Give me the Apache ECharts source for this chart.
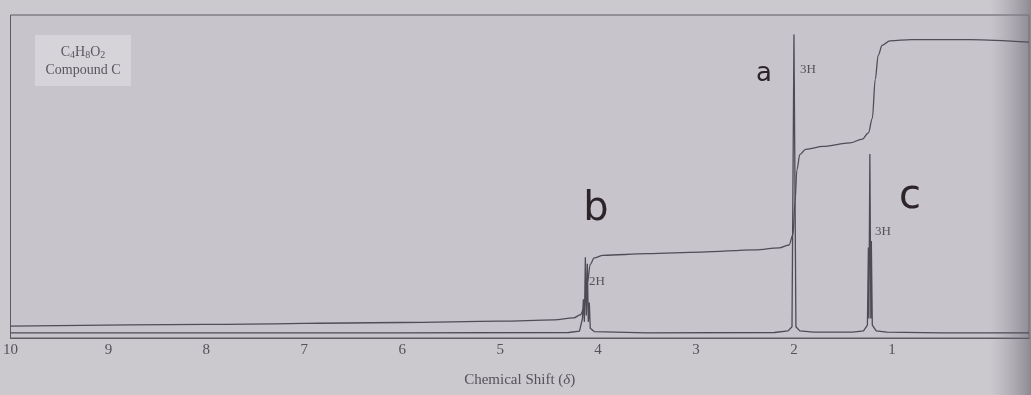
<!DOCTYPE html>
<html>
<head>
<meta charset="utf-8">
<script src="https://cdn.jsdelivr.net/npm/echarts@6/dist/echarts.min.js"></script>
<style>
  html, body { margin: 0; padding: 0; background: #cbc8ce; }
  #chart { width: 1031px; height: 395px; }
</style>
</head>
<body>
<div id="chart"></div>
<script>
// chemical shift ticks shown on the axis
const tickLabels = [10, 9, 8, 7, 6, 5, 4, 3, 2, 1];

// spectrum trace [shift, intensity]
const spectrum = [
  [10, 1.6], [6, 1.6], [4.3, 1.7], [4.19, 2.1],
  [4.16, 6], [4.15, 12], [4.14, 5], [4.13, 25], [4.12, 7], [4.11, 23], [4.10, 5], [4.09, 11], [4.08, 3],
  [4.04, 2.0], [3.5, 1.6], [2.2, 1.7], [2.06, 2.2], [2.02, 3.5],
  [2.0, 94], [1.98, 3.5], [1.94, 2.2], [1.8, 1.8], [1.4, 1.8], [1.29, 2.2], [1.25, 4],
  [1.24, 28], [1.235, 6], [1.225, 57], [1.215, 6], [1.21, 30], [1.2, 4],
  [1.16, 2.2], [1.05, 1.8], [0.5, 1.6], [-0.4, 1.6]
];

// integral curve [shift, height]
const integral = [
  [10, 3.7], [8, 4.2], [6, 4.8], [5, 5.2], [4.45, 5.6], [4.25, 6.2], [4.18, 7.2],
  [4.14, 9.5], [4.11, 17], [4.08, 22.8], [4.04, 24.8], [3.95, 25.6], [3.5, 26.1],
  [2.95, 26.6], [2.4, 27.3], [2.15, 27.9], [2.05, 28.8], [2.01, 32], [1.99, 42],
  [1.97, 52], [1.94, 56.8], [1.88, 58.4], [1.7, 59.3], [1.43, 60.4], [1.3, 61.6],
  [1.24, 63.5], [1.2, 68], [1.17, 80], [1.14, 87.5], [1.1, 90.6], [1.02, 92],
  [0.8, 92.4], [0.2, 92.4], [-0.4, 91.6]
];

// integration labels
const peakLabels = ['3H', '2H', '3H'];

const chart = echarts.init(document.getElementById('chart'));
const serif = '"Liberation Serif", "DejaVu Serif", serif';
const ink = '#55525a';

const option = {
  backgroundColor: '#cbc8ce',
  animation: false,
  grid: {
    left: 7, right: 2, top: 15, bottom: 57,
    show: true, borderColor: '#5d5a62', borderWidth: 1, backgroundColor: '#c7c4cb'
  },
  xAxis: {
    type: 'value',
    inverse: true,
    min: -0.4,
    max: 10,
    interval: 0.2,
    axisLine: { lineStyle: { color: '#5d5a62', width: 1.2 } },
    axisTick: { show: false },
    splitLine: { show: false },
    axisLabel: {
      margin: 5,
      fontFamily: serif,
      fontSize: 15,
      color: ink,
      showMinLabel: false,
      formatter: function (v) {
        const r = Math.round(v);
        if (Math.abs(v - r) < 1e-6 && tickLabels.indexOf(r) >= 0) return String(r);
        return '';
      }
    },
    name: '{n|Chemical Shift (}{i|δ}{n|)}',
    nameLocation: 'middle',
    nameGap: 35,
    nameTextStyle: {
      rich: {
        n: { fontFamily: serif, fontSize: 15, color: ink },
        i: { fontFamily: serif, fontSize: 15, color: ink, fontStyle: 'italic' }
      }
    }
  },
  yAxis: {
    type: 'value',
    min: 0,
    max: 100,
    show: false
  },
  series: [
    {
      name: 'spectrum',
      type: 'line',
      data: spectrum,
      showSymbol: false,
      lineStyle: { color: '#4e4b55', width: 1.3 }
    },
    {
      name: 'integral',
      type: 'line',
      data: integral,
      showSymbol: false,
      smooth: 0.35,
      smoothMonotone: 'x',
      lineStyle: { color: '#504d57', width: 1.3 }
    }
  ],
  graphic: [
    {
      type: 'rect',
      shape: { x: 35, y: 35, width: 96, height: 51 },
      style: { fill: '#d6d3d9' }
    },
    {
      type: 'text',
      x: 83, y: 52,
      style: {
        text: 'C{s|4}H{s|8}O{s|2}',
        align: 'center', verticalAlign: 'middle',
        fontFamily: serif, fontSize: 14, fill: '#5a5760',
        rich: { s: { fontFamily: serif, fontSize: 10, fill: '#5a5760', padding: [6, 0, 0, 0] } }
      }
    },
    {
      type: 'text',
      x: 83, y: 70,
      style: {
        text: 'Compound C', align: 'center', verticalAlign: 'middle',
        fontFamily: serif, fontSize: 14, fill: '#5a5760'
      }
    },
    {
      type: 'text', x: 800, y: 70,
      style: { text: peakLabels[0], verticalAlign: 'middle', fontFamily: serif, fontSize: 13, fill: ink }
    },
    {
      type: 'text', x: 589, y: 282,
      style: { text: peakLabels[1], verticalAlign: 'middle', fontFamily: serif, fontSize: 13, fill: ink }
    },
    {
      type: 'text', x: 875, y: 232,
      style: { text: peakLabels[2], verticalAlign: 'middle', fontFamily: serif, fontSize: 13, fill: ink }
    },
    // handwritten annotations
    {
      type: 'text', x: 764, y: 74,
      style: { text: 'a', align: 'center', verticalAlign: 'middle', fontFamily: '"DejaVu Sans"', fontSize: 26, fill: '#2c2428' }
    },
    {
      type: 'text', x: 596, y: 210,
      style: { text: 'b', align: 'center', verticalAlign: 'middle', fontFamily: '"DejaVu Sans"', fontSize: 40, fill: '#2c2428' }
    },
    {
      type: 'text', x: 910, y: 198,
      style: { text: 'c', align: 'center', verticalAlign: 'middle', fontFamily: '"DejaVu Sans"', fontSize: 40, fill: '#2c2428' }
    },
    // photo shadow along right edge
    {
      type: 'rect',
      shape: { x: 990, y: 0, width: 41, height: 395 },
      style: {
        fill: new echarts.graphic.LinearGradient(0, 0, 1, 0, [
          { offset: 0, color: 'rgba(150,147,156,0)' },
          { offset: 1, color: 'rgba(120,117,126,0.75)' }
        ])
      }
    }
  ]
};

chart.setOption(option);
</script>
</body>
</html>
